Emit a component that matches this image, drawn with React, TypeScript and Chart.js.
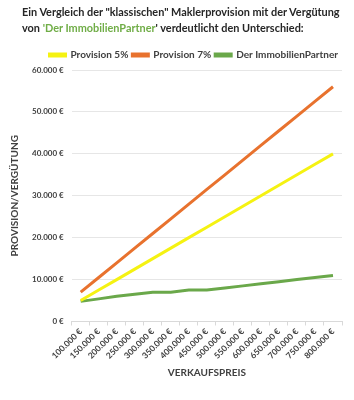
import React, { useEffect, useRef } from "react";
import { Chart, registerables } from "chart.js";

Chart.register(...registerables);

const categories = [
  "100.000 €", "150.000 €", "200.000 €", "250.000 €", "300.000 €",
  "350.000 €", "400.000 €", "450.000 €", "500.000 €", "550.000 €",
  "600.000 €", "650.000 €", "700.000 €", "750.000 €", "800.000 €",
];
const provision5 = [5000, 7500, 10000, 12500, 15000, 17500, 20000, 22500, 25000, 27500, 30000, 32500, 35000, 37500, 40000];
const provision7 = [7000, 10500, 14000, 17500, 21000, 24500, 28000, 31500, 35000, 38500, 42000, 45500, 49000, 52500, 56000];
const partner = [4800, 5400, 6000, 6500, 7000, 7000, 7500, 7500, 8000, 8500, 9000, 9500, 10000, 10500, 11000];
const yTicks = [0, 10000, 20000, 30000, 40000, 50000, 60000];

const FONT = "Lato, 'Open Sans', sans-serif";

function fmt(v: number): string {
  if (v === 0) return "0 €";
  return String(v).replace(/\B(?=(\d{3})+(?!\d))/g, ".") + " €";
}

export default function App() {
  const ref = useRef<HTMLCanvasElement | null>(null);

  useEffect(() => {
    if (!ref.current) return;
    const chart = new Chart(ref.current, {
      type: "line",
      data: {
        labels: categories,
        datasets: [
          { label: "Provision 5%", data: provision5, borderColor: "#f5f212", backgroundColor: "#f5f212", borderWidth: 3, pointRadius: 0, tension: 0 },
          { label: "Provision 7%", data: provision7, borderColor: "#e8722e", backgroundColor: "#e8722e", borderWidth: 3, pointRadius: 0, tension: 0 },
          { label: "Der ImmobilienPartner", data: partner, borderColor: "#6aa84a", backgroundColor: "#6aa84a", borderWidth: 3, pointRadius: 0, tension: 0 },
        ],
      },
      options: {
        animation: false,
        responsive: false,
        layout: { padding: { top: 46, left: 9, right: 12, bottom: 21 } },
        plugins: {
          tooltip: { enabled: false },
          legend: {
            position: "top",
            align: "end",
            labels: {
              boxWidth: 16,
              boxHeight: 2,
              padding: 4,
              color: "#404040",
              font: { family: FONT, size: 10, weight: "bold" },
            },
          },
        },
        scales: {
          x: {
            offset: true,
            grid: { drawOnChartArea: false, drawTicks: true, tickLength: 4, color: "#d9d9d9", offset: true },
            border: { color: "#d9d9d9" },
            ticks: {
              autoSkip: false,
              maxRotation: 45,
              minRotation: 45,
              color: "#404040",
              font: { family: FONT, size: 8.5, weight: "bold" },
              padding: 1,
            },
            title: {
              display: true,
              text: "VERKAUFSPREIS",
              color: "#404040",
              font: { family: FONT, size: 10, weight: "bold" },
              padding: { top: 5, bottom: 0 },
            },
          },
          y: {
            min: 0,
            max: 60000,
            afterBuildTicks: (s: any) => {
              s.ticks = yTicks.map((v) => ({ value: v }));
            },
            grid: { color: "#e6e6e6", drawTicks: false },
            border: { display: false },
            ticks: {
              callback: (v: any) => fmt(Number(v)),
              color: "#404040",
              font: { family: FONT, size: 8, weight: "bold" },
              padding: 8,
            },
            title: {
              display: true,
              text: "PROVISION/VERGÜTUNG",
              color: "#404040",
              font: { family: FONT, size: 10, weight: "bold" },
              padding: { top: 0, bottom: 3 },
            },
          },
        },
      },
    });
    return () => chart.destroy();
  }, []);

  return (
    <div style={{ position: "fixed", left: 0, top: 0, width: 354, height: 400, background: "#fff" }}>
      <canvas ref={ref} width={354} height={400} style={{ position: "absolute", left: 0, top: 0 }} />
      <div
        style={{
          position: "absolute",
          left: 22,
          top: 4,
          fontFamily: FONT,
          fontWeight: "bold",
          fontSize: 10.9,
          lineHeight: "16px",
          color: "#262626",
          whiteSpace: "nowrap",
        }}
      >
        <div>Ein Vergleich der "klassischen" Maklerprovision mit der Vergütung</div>
        <div>
          von <span style={{ color: "#70ad47" }}>'Der ImmobilienPartner</span>' verdeutlicht den Unterschied:
        </div>
      </div>
    </div>
  );
}
